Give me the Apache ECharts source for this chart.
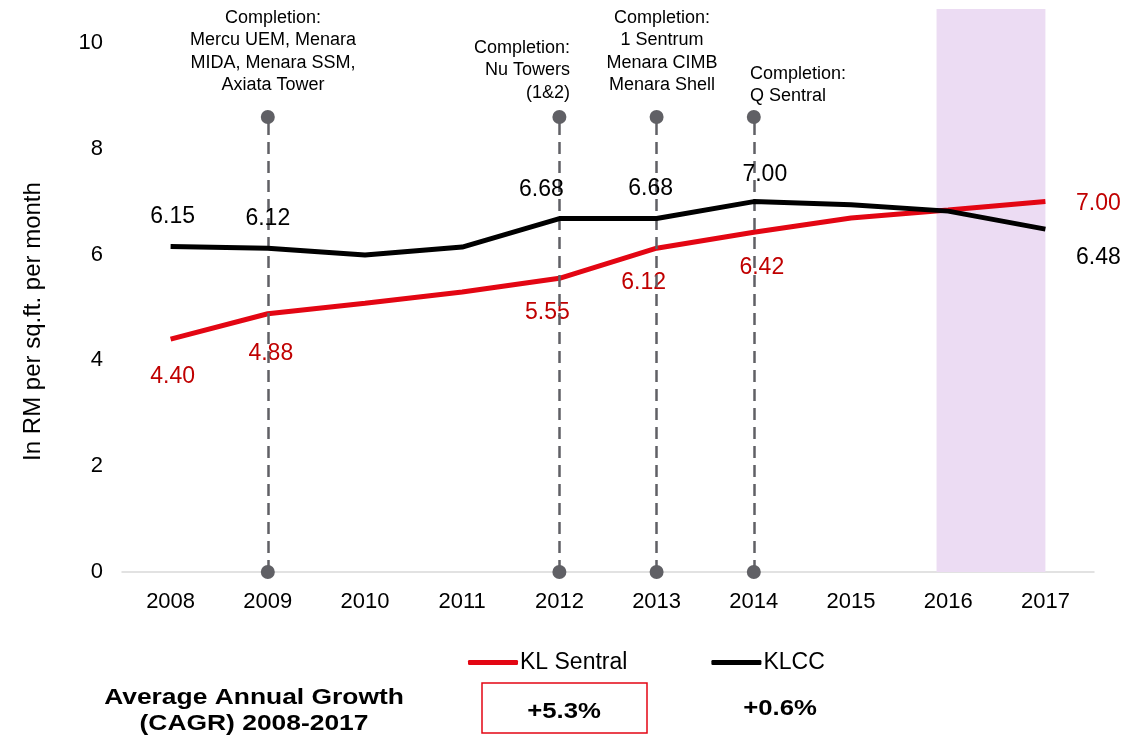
<!DOCTYPE html>
<html>
<head>
<meta charset="utf-8">
<script src="https://cdn.jsdelivr.net/npm/echarts@6/dist/echarts.min.js"></script>
<style>
html, body { margin: 0; padding: 0; background: #fff; }
#chart { width: 1140px; height: 745px; }
</style>
</head>
<body>
<div id="chart"></div>
<script>
const years = ['2008', '2009', '2010', '2011', '2012', '2013', '2014', '2015', '2016', '2017'];
const klSentral = [4.40, 4.88, 5.08, 5.29, 5.55, 6.12, 6.42, 6.69, 6.84, 7.00];
const klcc = [6.15, 6.12, 5.99, 6.14, 6.68, 6.68, 7.00, 6.94, 6.82, 6.48];
const yTicks = [0, 2, 4, 6, 8, 10];
// which points carry a value label
const labelledYears = ['2008', '2009', '2012', '2013', '2014', '2017'];
const completionYears = ['2009', '2012', '2013', '2014'];
const completionTop = 8.6;
const completionText = {
    '2009': 'Completion:\nMercu UEM, Menara\nMIDA, Menara SSM,\nAxiata Tower',
    '2012': 'Completion:\nNu Towers\n(1&2)',
    '2013': 'Completion:\n1 Sentrum\nMenara CIMB\nMenara Shell',
    '2014': 'Completion:\nQ Sentral'
};
const cagr = ['+5.3%', '+0.6%'];
// shaded band, in category-index units (starts a little before 2016)
const shadeStart = 7.88;
const shadeEnd = 9;

const font = 'Liberation Sans, Arial, sans-serif';

// label offset from the point (label centre)
const redLabelPos = {
    '2008': [2, 37], '2009': [3, 40], '2012': [-12, 34],
    '2013': [-13, 34], '2014': [8, 35], '2017': [53, 2]
};
const blackLabelPos = {
    '2008': [2, -30], '2009': [0, -30], '2012': [-18, -29],
    '2013': [-6, -30], '2014': [11, -27], '2017': [53, 29]
};

function buildData(values, posMap, color) {
    return values.map((v, i) => {
        const y = years[i];
        if (labelledYears.indexOf(y) < 0) return v;
        return {
            value: v,
            label: {
                show: true,
                position: 'inside',
                offset: posMap[y],
                color: color,
                fontSize: 23,
                fontFamily: font,
                formatter: (d) => d.value.toFixed(2)
            }
        };
    });
}

const completionLines = completionYears.map(y => [
    { coord: [y, 0] },
    { coord: [y, completionTop] }
]);

function note(text, x, y, align) {
    return {
        type: 'text', x: x, y: y,
        style: {
            text: text, fill: '#000', align: align, verticalAlign: 'top',
            lineHeight: 22.3, font: '18px ' + font
        }
    };
}

const chart = echarts.init(document.getElementById('chart'));
chart.setOption({
    animation: false,
    textStyle: { fontFamily: font },
    grid: { left: 122, right: 46, top: 9, bottom: 173 },
    legend: {
        data: [
            { name: 'KL Sentral', itemStyle: { color: '#e30613' } },
            { name: 'KLCC', itemStyle: { color: '#000' } }
        ],
        left: 463,
        top: 646,
        icon: 'roundRect',
        itemWidth: 50,
        itemHeight: 5,
        itemGap: 84,
        textStyle: { fontSize: 23, color: '#000', fontFamily: font, padding: [0, 0, 0, -3] }
    },
    xAxis: [
        {
            type: 'category',
            data: years,
            axisLine: { lineStyle: { color: '#d9d9d9', width: 1.5 } },
            axisTick: { show: false },
            axisLabel: { color: '#000', fontSize: 22, margin: 19 }
        },
        {
            // hidden helper axis in category-index units, for the shaded band
            type: 'value', min: -0.5, max: years.length - 0.5, show: false
        }
    ],
    yAxis: {
        type: 'value',
        min: 0,
        max: 10.64,
        interval: 2,
        name: 'In RM per sq.ft. per month',
        nameLocation: 'middle',
        nameGap: 77,
        nameTextStyle: { fontSize: 24, color: '#000', padding: [0, 62, 0, 0] },
        axisLine: { show: false },
        axisTick: { show: false },
        splitLine: { show: false },
        axisLabel: {
            color: '#000', fontSize: 22, margin: 19, showMaxLabel: false,
            formatter: v => (yTicks.indexOf(v) >= 0 ? String(v) : '')
        }
    },
    series: [
        {
            name: 'shade',
            type: 'line',
            xAxisIndex: 1,
            data: [],
            z: 1,
            markArea: {
                silent: true,
                itemStyle: { color: '#ecdcf3', opacity: 1 },
                data: [[{ xAxis: shadeStart, yAxis: 0 }, { xAxis: shadeEnd, yAxis: 10.64 }]]
            }
        },
        {
            name: 'KL Sentral',
            type: 'line',
            data: buildData(klSentral, redLabelPos, '#c00000'),
            symbol: 'circle',
            symbolSize: 0.1,
            showAllSymbol: true,
            lineStyle: { color: '#e30613', width: 5 },
            itemStyle: { color: '#e30613' },
            z: 4,
            markLine: {
                silent: true,
                symbol: ['circle', 'circle'],
                symbolSize: 14,
                label: { show: false },
                lineStyle: { color: '#606065', type: [12, 7], width: 2.5, opacity: 1 },
                itemStyle: { color: '#606065', opacity: 1 },
                data: completionLines
            }
        },
        {
            name: 'KLCC',
            type: 'line',
            data: buildData(klcc, blackLabelPos, '#000'),
            symbol: 'circle',
            symbolSize: 0.1,
            showAllSymbol: true,
            lineStyle: { color: '#000', width: 5 },
            itemStyle: { color: '#000' },
            z: 5
        }
    ],
    graphic: [
        note(completionText['2009'], 273, 7, 'center'),
        note(completionText['2012'], 570, 37, 'right'),
        note(completionText['2013'], 662, 7, 'center'),
        note(completionText['2014'], 750, 63, 'left'),
        {
            type: 'text', x: 254, y: 685, scaleX: 1.2,
            style: { text: 'Average Annual Growth\n(CAGR) 2008-2017', fill: '#000', align: 'center', verticalAlign: 'top', lineHeight: 26, font: 'bold 22px ' + font }
        },
        {
            type: 'rect', x: 482, y: 683,
            shape: { width: 165, height: 50 },
            style: { fill: 'none', stroke: '#e30613', lineWidth: 1.5 }
        },
        {
            type: 'text', x: 564, y: 712, scaleX: 1.17,
            style: { text: cagr[0], fill: '#000', align: 'center', verticalAlign: 'middle', font: 'bold 22px ' + font }
        },
        {
            type: 'text', x: 780, y: 709, scaleX: 1.17,
            style: { text: cagr[1], fill: '#000', align: 'center', verticalAlign: 'middle', font: 'bold 22px ' + font }
        }
    ]
});
</script>
</body>
</html>
